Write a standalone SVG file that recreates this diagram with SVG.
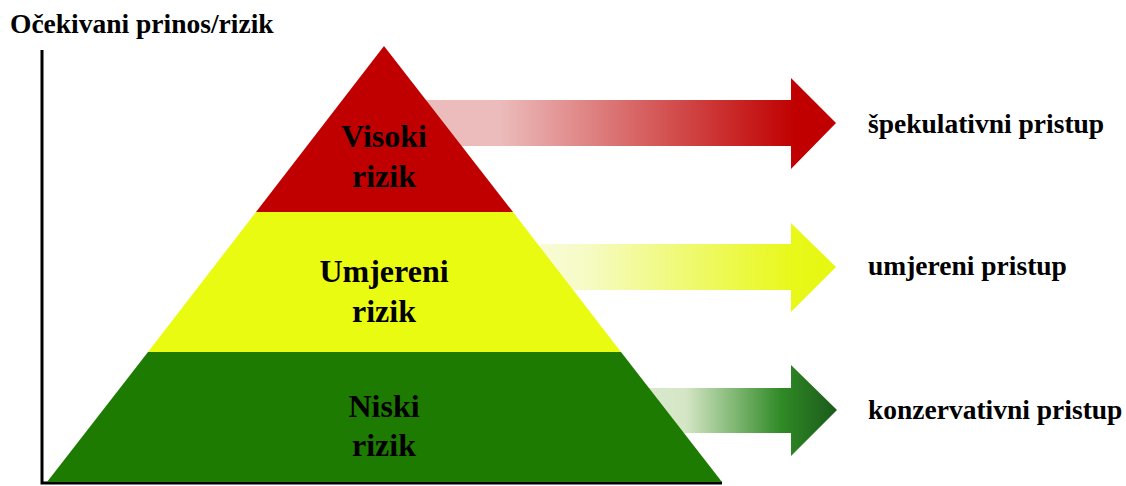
<svg xmlns="http://www.w3.org/2000/svg" width="1126" height="486" viewBox="0 0 1126 486">
<style>
text{font-family:"Liberation Serif","Times New Roman",serif;font-weight:bold;fill:#000}
.lbl{font-size:32px;text-anchor:middle}
.side{font-size:27.5px}
.axis{stroke:#000;stroke-width:3;fill:none}
</style>
<defs>
<linearGradient id="gRed" gradientUnits="userSpaceOnUse" x1="430" y1="0" x2="836" y2="0">
<stop offset="0" stop-color="#ecbcbc"/><stop offset="0.17" stop-color="#ecbcbc"/><stop offset="0.9" stop-color="#c00000"/><stop offset="1" stop-color="#c00000"/>
</linearGradient>
<linearGradient id="gYel" gradientUnits="userSpaceOnUse" x1="540" y1="0" x2="836" y2="0">
<stop offset="0" stop-color="#f8fbd6"/><stop offset="0.15" stop-color="#f6fbc6"/><stop offset="0.85" stop-color="#e8f81a"/><stop offset="1" stop-color="#e6f70f"/>
</linearGradient>
<linearGradient id="gGrn" gradientUnits="userSpaceOnUse" x1="652" y1="0" x2="837" y2="0">
<stop offset="0" stop-color="#d9e8cc"/><stop offset="0.18" stop-color="#d5e6c6"/><stop offset="0.7" stop-color="#2f8a25"/><stop offset="1" stop-color="#1b5a1b"/>
</linearGradient>
</defs>
<g id="connectors">
<path d="M400,100 H791 V78 L836,123 L791,169 V146 H400 Z" fill="url(#gRed)"/>
<path d="M540,244 H791 V223 L836,267 L791,312 V290 H540 Z" fill="url(#gYel)"/>
<path d="M640,388 H791 V365 L837,410 L791,456 V433 H640 Z" fill="url(#gGrn)"/>
</g>
<g id="axes">
<path class="axis" d="M42,50 V483 H722"/>
</g>
<g id="title"><text x="10" y="33" style="font-size:27.5px">Očekivani prinos/rizik</text></g>
<g id="low">
<polygon points="148,352 621,352 722,482 47,482" fill="#1e7b02"/>
<text class="lbl" x="384" y="417">Niski</text>
<text class="lbl" x="384" y="456">rizik</text>
</g>
<g id="medium">
<polygon points="256,212 513,212 621,352 148,352" fill="#eafb12"/>
<text class="lbl" x="384" y="282">Umjereni</text>
<text class="lbl" x="384" y="322">rizik</text>
</g>
<g id="high">
<polygon points="384,46 513,212 256,212" fill="#c00000"/>
<text class="lbl" x="384" y="147">Visoki</text>
<text class="lbl" x="384" y="187">rizik</text>
</g>
<g id="labels">
<text class="side" x="868" y="133">špekulativni pristup</text>
<text class="side" x="868" y="275">umjereni pristup</text>
<text class="side" x="868" y="419">konzervativni pristup</text>
</g>
</svg>
